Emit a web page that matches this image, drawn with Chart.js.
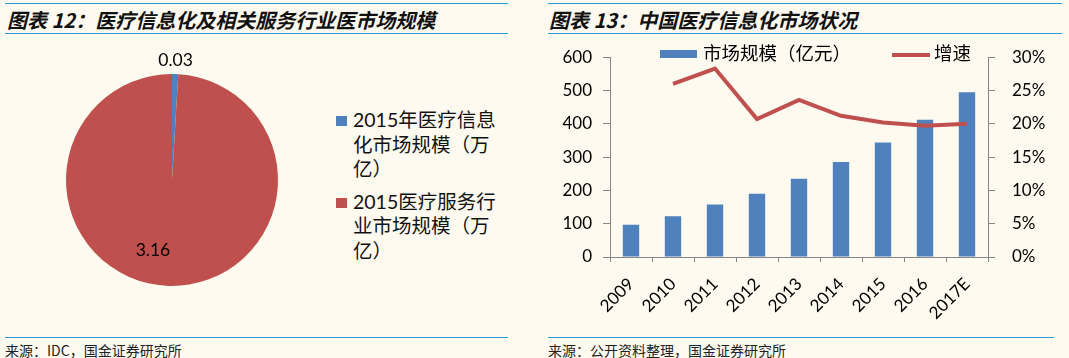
<!DOCTYPE html>
<html>
<head>
<meta charset="utf-8">
<script src="https://cdn.jsdelivr.net/npm/chart.js@4.4.0/dist/chart.umd.min.js"></script>
<style>
  body { margin: 0; width: 1069px; height: 358px; background: #fefaf0; position: relative; overflow: hidden; font-family: Lato, "Noto Sans CJK SC", sans-serif; }
  .rule { position: absolute; height: 0; border-top: 1.5px solid #2a9ad4; }
  .title { position: absolute; top: 5px; line-height: 20px; font: italic 700 20px "Noto Sans CJK SC", sans-serif; color: #111; white-space: nowrap; }
  .src { position: absolute; top: 343px; line-height: 14px; font-size: 14px; font-family: "Noto Sans CJK SC", sans-serif; color: #222; white-space: nowrap; }
  .pie-legend { position: absolute; left: 336px; top: 108px; width: 170px; }
  .pie-legend .item { position: relative; padding-left: 17px; width: 150px; font-size: 19.5px; line-height: 24.5px; color: #111; margin-bottom: 8px; word-break: break-all; }
  .pie-legend .box { position: absolute; left: 0; top: 8px; width: 11px; height: 10px; }
  canvas { position: absolute; }
</style>
</head>
<body>
<div class="rule" style="left:5px; width:503px; top:3px"></div>
<div class="rule" style="left:5px; width:503px; top:33px"></div>
<div class="rule" style="left:548px; width:514px; top:3px"></div>
<div class="rule" style="left:548px; width:514px; top:33px"></div>
<div class="rule" style="left:5px; width:503px; top:337px"></div>
<div class="rule" style="left:548px; width:506px; top:337px"></div>

<div class="title" style="left:7px">图表 12：医疗信息化及相关服务行业医市场规模</div>
<div class="title" style="left:549px">图表 13：中国医疗信息化市场状况</div>
<div class="src" style="left:5px">来源：IDC，国金证券研究所</div>
<div class="src" style="left:548px">来源：公开资料整理，国金证券研究所</div>

<canvas id="pieChart" width="260" height="260" style="left:42px; top:50px"></canvas>
<div class="pie-legend" id="pieLegend"></div>
<canvas id="comboChart" width="529" height="310" style="left:540px; top:30px"></canvas>

<script>
// 图表12 数据
const pieLabels = ["2015年医疗信息化市场规模（万亿）", "2015医疗服务行业市场规模（万亿）"];
const pieValues = [0.03, 3.16];
const pieColors = ["#4f81bd", "#c0504d"];

// 图表13 数据
const years = ["2009", "2010", "2011", "2012", "2013", "2014", "2015", "2016", "2017E"];
const marketSize = [97, 122, 158, 190, 235, 285, 344, 412, 495]; // 亿元
const growthRate = [null, 26.0, 28.3, 20.7, 23.6, 21.2, 20.2, 19.7, 20.0]; // %
const seriesNames = ["市场规模（亿元）", "增速"];

const axisGray = "#868686";
const tickFont = { family: "Lato, 'Noto Sans CJK SC'", size: 17 };

// 饼图的数值标签
const pieLabelRadius = [1.13, 0.66];
const pieLabelShift = [0, -17];
const pieValueLabels = {
  id: "pieValueLabels",
  afterDatasetsDraw(chart) {
    const ctx = chart.ctx;
    const meta = chart.getDatasetMeta(0);
    ctx.save();
    ctx.font = "17.5px Lato";
    ctx.fillStyle = "#000";
    ctx.textAlign = "center";
    ctx.textBaseline = "middle";
    meta.data.forEach((arc, i) => {
      const p = arc.getProps(["x", "y", "startAngle", "endAngle", "outerRadius"], true);
      const mid = (p.startAngle + p.endAngle) / 2;
      const r = p.outerRadius * pieLabelRadius[i];
      ctx.fillText(pieValues[i].toFixed(2), p.x + Math.cos(mid) * r + pieLabelShift[i], p.y + Math.sin(mid) * r);
    });
    ctx.restore();
  },
};

new Chart(document.getElementById("pieChart"), {
  type: "pie",
  data: {
    labels: pieLabels,
    datasets: [{ data: pieValues, backgroundColor: pieColors, borderWidth: 0 }],
  },
  options: {
    responsive: false,
    animation: false,
    devicePixelRatio: 1,
    layout: { padding: 24 },
    plugins: { legend: { display: false }, tooltip: { enabled: false } },
  },
  plugins: [pieValueLabels],
});

// 饼图图例（html）
const pieLegend = document.getElementById("pieLegend");
pieLabels.forEach((label, i) => {
  const item = document.createElement("div");
  item.className = "item";
  item.innerHTML = '<span class="box" style="background:' + pieColors[i] + '"></span>' + label;
  pieLegend.appendChild(item);
});

// 柱线图的图例，画在绘图区上方
const comboLegend = {
  id: "comboLegend",
  afterDraw(chart) {
    const ctx = chart.ctx;
    const y = 24;
    ctx.save();
    ctx.font = "18.5px 'Noto Sans CJK SC'";
    ctx.textBaseline = "middle";
    let x = 120;
    ctx.fillStyle = chart.data.datasets[0].backgroundColor;
    ctx.fillRect(x, y - 4, 37, 8);
    x += 43;
    ctx.fillStyle = "#000";
    ctx.fillText(chart.data.datasets[0].label, x, y - 1);
    x += ctx.measureText(chart.data.datasets[0].label).width + 41;
    ctx.strokeStyle = chart.data.datasets[1].borderColor;
    ctx.lineWidth = 4;
    ctx.beginPath();
    ctx.moveTo(x, y + 1);
    ctx.lineTo(x + 38, y + 1);
    ctx.stroke();
    x += 42;
    ctx.fillText(chart.data.datasets[1].label, x, y - 1);
    ctx.restore();
  },
};

new Chart(document.getElementById("comboChart"), {
  type: "bar",
  data: {
    labels: years,
    datasets: [
      {
        type: "bar",
        label: seriesNames[0],
        data: marketSize,
        backgroundColor: "#4f81bd",
        barPercentage: 0.39,
        categoryPercentage: 1,
        yAxisID: "y",
        order: 2,
      },
      {
        type: "line",
        label: seriesNames[1],
        data: growthRate,
        borderColor: "#c0504d",
        backgroundColor: "#c0504d",
        borderWidth: 4,
        pointRadius: 0,
        tension: 0,
        yAxisID: "y1",
        order: 1,
      },
    ],
  },
  options: {
    responsive: false,
    animation: false,
    devicePixelRatio: 1,
    layout: { padding: { top: 7, left: 0, right: 0, bottom: 0 } },
    plugins: { legend: { display: false }, tooltip: { enabled: false } },
    scales: {
      x: {
        grid: { drawOnChartArea: false, tickLength: 5, color: axisGray, offset: true },
        border: { color: axisGray },
        ticks: { font: tickFont, color: "#000", minRotation: 45, maxRotation: 45, padding: 12 },
        afterFit: (scale) => { scale.height = 83; },
      },
      y: {
        position: "left",
        min: 0,
        max: 600,
        grid: { drawOnChartArea: false, tickLength: 7, color: axisGray },
        border: { color: axisGray },
        ticks: { stepSize: 100, font: tickFont, color: "#000", padding: 11 },
        afterFit: (scale) => { scale.width = 70; },
      },
      y1: {
        position: "right",
        min: 0,
        max: 30,
        grid: { drawOnChartArea: false, tickLength: 7, color: axisGray },
        border: { color: axisGray },
        ticks: { stepSize: 5, font: tickFont, color: "#000", padding: 17, callback: (v) => v + "%" },
        afterFit: (scale) => { scale.width = 81; },
      },
    },
  },
  plugins: [comboLegend],
});
</script>
</body>
</html>
